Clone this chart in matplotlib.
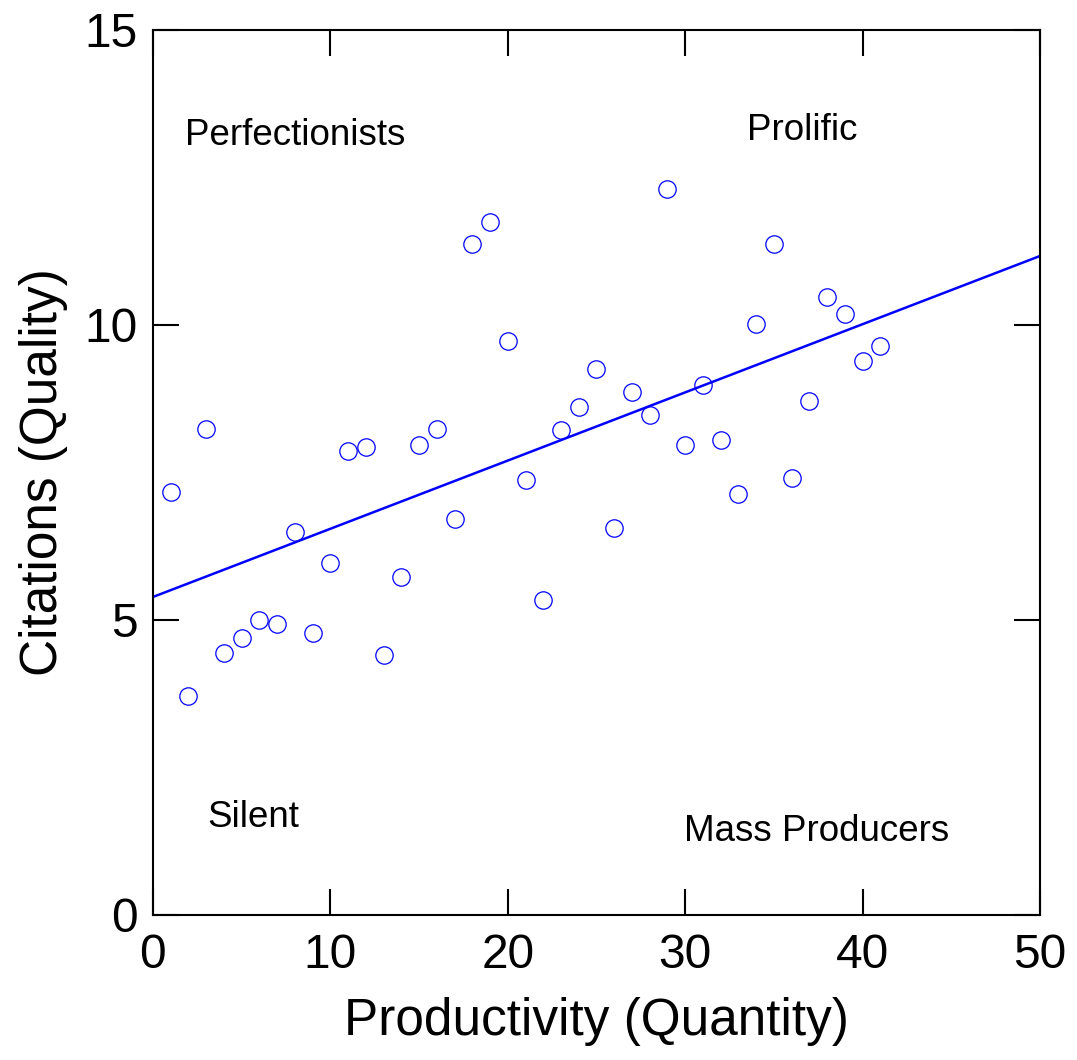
import matplotlib
matplotlib.use("Agg")
import matplotlib.pyplot as plt

# productivity (number of papers) vs citations
productivity = list(range(1, 42))
citations = [7.17, 3.71, 8.24, 4.44, 4.69, 5.00, 4.93, 6.49, 4.78, 5.97,
             7.86, 7.93, 4.41, 5.73, 7.97, 8.24, 6.71, 11.37, 11.75, 9.73,
             7.37, 5.34, 8.22, 8.61, 9.25, 6.56, 8.86, 8.47, 12.31, 7.97,
             8.98, 8.05, 7.14, 10.02, 11.37, 7.41, 8.71, 10.47, 10.19, 9.39,
             9.64]

# fitted line
fit_x = [0, 50]
fit_y = [5.39, 11.17]

# quadrant labels
quad_names = ["Perfectionists", "Prolific", "Silent", "Mass Producers"]
quad_x = [1.8, 36.6, 5.64, 37.4]
quad_y = [13.22, 13.3, 1.66, 1.41]
quad_ha = ["left", "center", "center", "center"]


def main():
    plt.rcParams['font.family'] = ['Liberation Sans', 'DejaVu Sans']
    fig = plt.figure(figsize=(10.77, 10.60), dpi=100)
    ax = fig.add_axes([0.142, 0.1368, 0.8237, 0.8349])

    ax.plot(productivity, citations, linestyle='none', marker='o',
            markersize=12.5, markerfacecolor='none', markeredgecolor='#0000ff',
            markeredgewidth=0.9)
    ax.plot(fit_x, fit_y, color='#0000ff', linewidth=1.8)

    for name, x, y, ha in zip(quad_names, quad_x, quad_y, quad_ha):
        ax.text(x, y, name, fontsize=26.5, ha=ha, va='center')

    ax.set_xlim(0, 50)
    ax.set_ylim(0, 15)
    ax.set_xticks([0, 10, 20, 30, 40, 50])
    ax.set_yticks([0, 5, 10, 15])
    ax.tick_params(direction='in', length=19, width=1.5, labelsize=34.5,
                   top=True, right=True, pad=13)
    ax.tick_params(axis='y', pad=11)
    for sp in ax.spines.values():
        sp.set_linewidth(1.5)

    ax.set_xlabel('Productivity (Quantity)', fontsize=37, labelpad=14)
    ax.set_ylabel('Citations (Quality)', fontsize=37, labelpad=12)

    fig.savefig('out.png', dpi=100)


if __name__ == "__main__":
    main()
